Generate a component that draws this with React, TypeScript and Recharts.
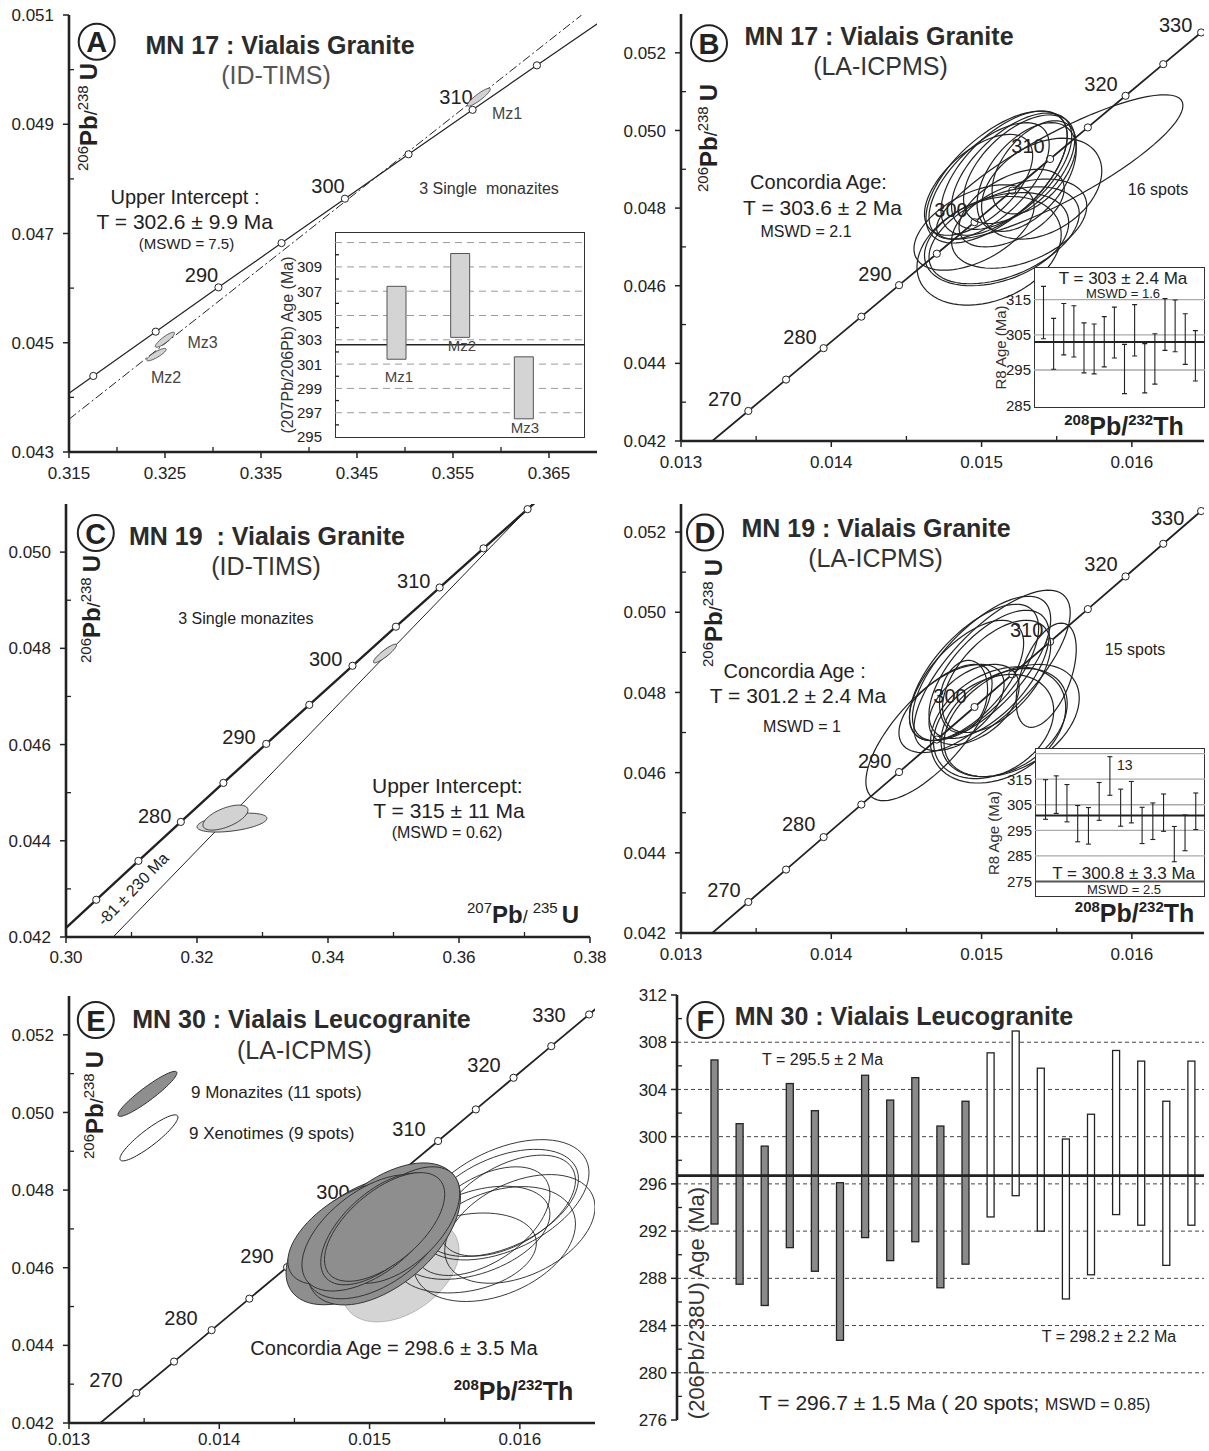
import React from 'react';
import { ComposedChart, XAxis, YAxis, Line, Scatter, Bar, CartesianGrid, ReferenceLine } from 'recharts';

type Ell = [number, number, number, number, number]; // centre x, centre y, half width, half height, correlation

const INK = '#222';
const FONT = "'Liberation Sans', Arial, Helvetica, sans-serif";

// ---- concordia: ages (Ma) and ratios at the age marks
const agesA = [280, 285, 290, 295, 300, 305, 310, 315];
const pb207A = [0.31753, 0.32403, 0.33057, 0.33714, 0.34374, 0.35037, 0.35704, 0.36374];
const pb206A = [0.044392, 0.045203, 0.046014, 0.046825, 0.047637, 0.04845, 0.049264, 0.050078];
const endsA = [[0.31106, 0.043582], [0.37047, 0.050893]];

const agesC = [270, 275, 280, 285, 290, 295, 300, 305, 310, 315, 320];
const pb207C = [0.30462, 0.31106, 0.31753, 0.32403, 0.33057, 0.33714, 0.34374, 0.35037, 0.35704, 0.36374, 0.37047];
const pb206C = [0.042774, 0.043582, 0.044392, 0.045203, 0.046014, 0.046825, 0.047637, 0.04845, 0.049264, 0.050078, 0.050893];
const endsC = [[0.29821, 0.041966], [0.37723, 0.051708]];

const agesTh = [270, 275, 280, 285, 290, 295, 300, 305, 310, 315, 320, 325, 330];
const pb208 = [0.013448, 0.013699, 0.013949, 0.0142, 0.014451, 0.014702, 0.014953, 0.015204, 0.015456, 0.015707, 0.015958, 0.016209, 0.016461];
const pb206Th = [0.042774, 0.043582, 0.044392, 0.045203, 0.046014, 0.046825, 0.047637, 0.04845, 0.049264, 0.050078, 0.050893, 0.051708, 0.052524];
const endsTh = [[0.013197, 0.041965], [0.016712, 0.053341]];

// ---- discordia lines
const discAX = [0.315, 0.3684];
const discAY = [0.0436, 0.051];
const discCX = [0.3072, 0.3712];
const discCY = [0.042, 0.051];

// ---- error ellipses
const ellA: Ell[] = [
  [0.35769, 0.049495, 0.0012, 0.000165, 0.9],
  [0.32499, 0.045055, 0.001, 0.000138, 0.88],
  [0.32411, 0.044783, 0.00101, 0.000113, 0.85],
];
const ellC: Ell[] = [
  [0.32534, 0.044378, 0.00534, 0.000197, 0.45],
  [0.32435, 0.044482, 0.00344, 0.00026, 0.6],
  [0.3487, 0.047892, 0.00176, 0.000194, 0.9],
];
const ellB: Ell[] = [
  [0.0151, 0.0488, 0.00047, 0.0017, 0.62],
  [0.01515, 0.0489, 0.00042, 0.0016, 0.6],
  [0.0152, 0.04895, 0.0004, 0.0015, 0.6],
  [0.01505, 0.0487, 0.0004, 0.0015, 0.62],
  [0.01525, 0.049, 0.00037, 0.0014, 0.55],
  [0.0153, 0.0488, 0.00033, 0.0014, 0.5],
  [0.01498, 0.0486, 0.00036, 0.0013, 0.58],
  [0.01535, 0.04905, 0.00028, 0.0012, 0.5],
  [0.01552, 0.04906, 0.00082, 0.00186, 0.85],
  [0.0154, 0.0485, 0.0004, 0.0013, 0.35],
  [0.0151, 0.0472, 0.00048, 0.0012, 0.35],
  [0.01505, 0.0469, 0.00048, 0.0014, 0.3],
  [0.01515, 0.0473, 0.0005, 0.00125, 0.45],
  [0.01495, 0.0475, 0.0004, 0.0011, 0.5],
  [0.01525, 0.0476, 0.00045, 0.00115, 0.4],
  [0.0152, 0.048, 0.00035, 0.001, 0.5],
];
const ellD: Ell[] = [
  [0.01465, 0.047, 0.00042, 0.0017, 0.72],
  [0.01507, 0.04855, 0.00052, 0.002, 0.72],
  [0.015, 0.0486, 0.00046, 0.0018, 0.68],
  [0.01495, 0.0485, 0.00043, 0.0017, 0.65],
  [0.01505, 0.04845, 0.0004, 0.0016, 0.62],
  [0.0149, 0.0483, 0.00038, 0.0015, 0.62],
  [0.0151, 0.0484, 0.00036, 0.0014, 0.55],
  [0.01488, 0.0479, 0.00016, 0.0009, 0.2],
  [0.01543, 0.04843, 0.0002, 0.0013, 0.5],
  [0.01511, 0.04719, 0.00045, 0.00145, 0.3],
  [0.01515, 0.04725, 0.00042, 0.00135, 0.35],
  [0.01508, 0.04715, 0.0004, 0.0013, 0.3],
  [0.0152, 0.0473, 0.00045, 0.0014, 0.4],
  [0.0148, 0.0476, 0.00035, 0.0011, 0.55],
  [0.01495, 0.0477, 0.0003, 0.001, 0.45],
];
const ellEMonazite: Ell[] = [
  [0.014948, 0.046696, 0.000504, 0.00165, 0.5],
  [0.015095, 0.046871, 0.00051, 0.00183, 0.52],
  [0.014902, 0.046897, 0.000446, 0.00133, 0.55],
  [0.01505, 0.0468, 0.00048, 0.0016, 0.5],
  [0.0152, 0.0471, 0.0004, 0.0015, 0.55],
  [0.015, 0.0469, 0.00045, 0.0015, 0.55],
  [0.015069, 0.047, 0.000394, 0.00144, 0.6],
  [0.0151, 0.04705, 0.0004, 0.0014, 0.6],
];
const ellEGrey: Ell[] = [[0.015206, 0.045918, 0.000389, 0.001314, 0.4]];
const ellEXenotime: Ell[] = [
  [0.01589, 0.04775, 0.00057, 0.00155, 0.45],
  [0.01587, 0.04767, 0.00052, 0.00138, 0.45],
  [0.01592, 0.0476, 0.00045, 0.0013, 0.5],
  [0.01583, 0.04661, 0.00054, 0.00148, 0.35],
  [0.01564, 0.04638, 0.00047, 0.00103, 0.25],
  [0.016, 0.047, 0.0005, 0.0014, 0.4],
  [0.01575, 0.0472, 0.00045, 0.0014, 0.5],
  [0.0157, 0.0469, 0.0005, 0.0012, 0.4],
];
const legendE: Ell[] = [
  [0.013522, 0.050479, 0.000196, 0.00058, 0.93],
  [0.013532, 0.049345, 0.000193, 0.000593, 0.9],
];

// ---- inset A : 207Pb/206Pb ages
const insetANames = ['Mz1', 'Mz2', 'Mz3'];
const insetALow = [301.4, 303.2, 296.5];
const insetAHigh = [307.4, 310.1, 301.6];
const insetAMean = 302.6;
const insetAGrid = [297, 299, 301, 303, 305, 307, 309, 311];
const insetATicks = [295, 296, 297, 298, 299, 300, 301, 302, 303, 304, 305, 306, 307, 308, 309, 310];
const insetALabels = [295, 297, 299, 301, 303, 305, 307, 309];

// ---- inset B : R8 ages, 16 spots
const r8BHigh = [318.8, 309.7, 313.9, 313.3, 308.4, 308.1, 310.2, 312.9, 302.3, 313.6, 302.5, 305.3, 315.3, 314.9, 311.0, 306.2];
const r8BLow = [303.9, 295.2, 299.3, 298.7, 294.2, 293.9, 295.9, 298.4, 288.3, 299.0, 288.5, 291.0, 300.6, 300.2, 296.6, 291.9];
const r8BMean = 303;
const r8BGrid = [295, 305, 315];
const r8BTicks = [285, 295, 305, 315];

// ---- inset D : R8 ages, 15 spots
const r8DHigh = [314.8, 316.3, 312.9, 304.7, 303.9, 313.7, 323.8, 311.1, 314.1, 304.0, 305.7, 309.2, 296.5, 301.0, 309.6];
const r8DLow = [299.3, 301.6, 298.3, 290.5, 289.6, 298.9, 308.7, 296.6, 297.9, 289.8, 291.4, 294.6, 282.7, 287.0, 295.3];
const r8DMean = 300.8;
const r8DGrid = [285, 295, 305, 315, 325];
const r8DBase = 275;
const r8DTicks = [275, 285, 295, 305, 315];

// ---- panel F : 206Pb/238U ages, 11 monazite + 9 xenotime spots
const fHigh = [306.5, 301.1, 299.2, 304.5, 302.2, 296.1, 305.2, 303.1, 305.0, 300.9, 303.0, 307.1, 308.95, 305.8, 299.8, 301.9, 307.3, 306.4, 303.0, 306.4];
const fLow = [292.6, 287.5, 285.7, 290.6, 288.6, 282.75, 291.45, 289.5, 291.1, 287.2, 289.2, 293.2, 295.0, 292.0, 286.25, 288.3, 293.4, 292.5, 289.1, 292.5];
const fKind = ['m', 'm', 'm', 'm', 'm', 'm', 'm', 'm', 'm', 'm', 'm', 'x', 'x', 'x', 'x', 'x', 'x', 'x', 'x', 'x'];
const fMean = 296.7;
const fGrid = [280, 284, 288, 292, 296, 300, 304, 308];
const fTicks = [276, 278, 280, 282, 284, 286, 288, 290, 292, 294, 296, 298, 300, 302, 304, 306, 308, 310, 312];
const fLabels = [276, 280, 284, 288, 292, 296, 300, 304, 308, 312];

// ---- axis ticks
const xTicksA = [0.315, 0.32, 0.325, 0.33, 0.335, 0.34, 0.345, 0.35, 0.355, 0.36, 0.365];
const xLabA = [0.315, 0.325, 0.335, 0.345, 0.355, 0.365];
const yTicksA = [0.043, 0.044, 0.045, 0.046, 0.047, 0.048, 0.049, 0.05, 0.051];
const yLabA = [0.043, 0.045, 0.047, 0.049, 0.051];
const xTicksC = [0.3, 0.31, 0.32, 0.33, 0.34, 0.35, 0.36, 0.37, 0.38];
const xLabC = [0.3, 0.32, 0.34, 0.36, 0.38];
const yTicksC = [0.042, 0.043, 0.044, 0.045, 0.046, 0.047, 0.048, 0.049, 0.05];
const yLabC = [0.042, 0.044, 0.046, 0.048, 0.05];
const xTicksTh = [0.013, 0.0135, 0.014, 0.0145, 0.015, 0.0155, 0.016];
const xLabTh = [0.013, 0.014, 0.015, 0.016];
const yTicksTh = [0.042, 0.043, 0.044, 0.045, 0.046, 0.047, 0.048, 0.049, 0.05, 0.051, 0.052];
const yLabTh = [0.042, 0.044, 0.046, 0.048, 0.05, 0.052];

const zip = (xs: number[], ys: number[]) => xs.map((x, i) => ({ x, y: ys[i] }));
const withEnds = (xs: number[], ys: number[], ends: number[][]) => [
  { x: ends[0][0], y: ends[0][1] },
  ...zip(xs, ys),
  { x: ends[1][0], y: ends[1][1] },
];

const ellPts = ([cx, cy, sx, sy, r]: Ell, n = 72) => {
  const q = Math.sqrt(1 - r * r);
  const out = [];
  for (let k = 0; k <= n; k++) {
    const t = (2 * Math.PI * k) / n;
    out.push({ x: cx + sx * Math.cos(t), y: cy + sy * (r * Math.cos(t) + q * Math.sin(t)) });
  }
  return out;
};
const toPath = (pts: any[]) =>
  pts.map((p, i) => `${i ? 'L' : 'M'}${p.x.toFixed(2)},${p.y.toFixed(2)}`).join(' ') + ' Z';

const isIn = (arr: number[], v: number) => arr.some((m) => Math.abs(m - v) < 1e-9);
const f3 = (v: number) => v.toFixed(3);
const f2 = (v: number) => v.toFixed(2);
const f0 = (v: number) => String(Math.round(v));

const yTick = (labels: number[], fmt: (v: number) => string, fs: number, gap: number, majLen = 6, minLen = 5) => (p: any) => {
  const v = Number(p.payload.value);
  const major = isIn(labels, v);
  return (
    <g>
      {major && majLen > 0 && <line x1={p.x - majLen} x2={p.x} y1={p.y} y2={p.y} stroke={INK} strokeWidth={1.5} />}
      {!major && minLen > 0 && <line x1={p.x} x2={p.x + minLen} y1={p.y} y2={p.y} stroke={INK} strokeWidth={1.3} />}
      {major && (
        <text x={p.x - gap} y={p.y} dy="0.36em" textAnchor="end" fontSize={fs} fill={INK}>
          {fmt(v)}
        </text>
      )}
    </g>
  );
};

const xTick = (labels: number[], fmt: (v: number) => string, gap: number) => (p: any) => {
  const v = Number(p.payload.value);
  const major = isIn(labels, v);
  return (
    <g>
      {major ? (
        <line x1={p.x} x2={p.x} y1={p.y} y2={p.y + 6} stroke={INK} strokeWidth={1.5} />
      ) : (
        <line x1={p.x} x2={p.x} y1={p.y} y2={p.y - 5} stroke={INK} strokeWidth={1.3} />
      )}
      {major && (
        <text x={p.x} y={p.y + gap} textAnchor="middle" fontSize={17} fill={INK}>
          {fmt(v)}
        </text>
      )}
    </g>
  );
};

const concordia = (pts: any[], key: string, sw: number) => (
  <Line key={key} data={pts} dataKey="y" type="linear" stroke={INK} strokeWidth={sw} dot={false} activeDot={false} isAnimationActive={false} />
);
const straight = (pts: any[], key: string, dash?: string) => (
  <Line key={key} data={pts} dataKey="y" type="linear" stroke={INK} strokeWidth={1} strokeDasharray={dash} dot={false} activeDot={false} isAnimationActive={false} />
);
const marks = (pts: any[], key: string) => (
  <Scatter
    key={key}
    data={pts}
    isAnimationActive={false}
    shape={(p: any) => <circle cx={p.cx} cy={p.cy} r={3.6} fill="#fff" stroke={INK} strokeWidth={1} />}
  />
);
const ellipse = (e: Ell, key: string, fill: string, stroke: string, sw: number) => (
  <Scatter
    key={key}
    data={ellPts(e)}
    isAnimationActive={false}
    shape={() => <g />}
    line={(lp: any) => <path d={toPath(lp.points)} fill={fill} stroke={stroke} strokeWidth={sw} />}
  />
);

type Box = { l: number; t: number; r: number; b: number };

const Panel = ({ box, xDom, yDom, xTicks, xLab, yTicks, yLab, fx, gap = 27, children }: any) => {
  const YW = 70, XH = 36, TM = 14, RM = 24;
  const w = box.r - box.l;
  const h = box.b - box.t;
  return (
    <div style={{ position: 'absolute', left: box.l - YW, top: box.t - TM }}>
      <ComposedChart width={w + YW + RM} height={h + TM + XH} margin={{ top: TM, right: RM, bottom: 0, left: 0 }}>
        <XAxis
          type="number"
          dataKey="x"
          domain={xDom}
          allowDataOverflow
          ticks={xTicks}
          interval={0}
          height={XH}
          tickSize={0}
          tickMargin={0}
          tickLine={false}
          axisLine={{ stroke: INK, strokeWidth: 2.6 }}
          tick={xTick(xLab, fx, gap)}
        />
        <XAxis xAxisId="top" orientation="top" type="number" domain={[0, 1]} allowDataOverflow height={0} tick={false} tickLine={false} axisLine={{ stroke: INK, strokeWidth: 2 }} />
        <YAxis
          type="number"
          dataKey="y"
          domain={yDom}
          allowDataOverflow
          ticks={yTicks}
          interval={0}
          width={YW}
          tickSize={0}
          tickMargin={0}
          tickLine={false}
          axisLine={{ stroke: INK, strokeWidth: 2.6 }}
          tick={yTick(yLab, f3, 17, 15)}
        />
        <YAxis yAxisId="right" orientation="right" type="number" domain={[0, 1]} allowDataOverflow width={0} tick={false} tickLine={false} axisLine={{ stroke: INK, strokeWidth: 2 }} />
        {children}
      </ComposedChart>
    </div>
  );
};

const errShape = (p: any) => {
  const cx = p.x + p.width / 2;
  return (
    <g stroke={INK} strokeWidth={1.1}>
      <line x1={cx} x2={cx} y1={p.y} y2={p.y + p.height} />
      <line x1={cx - 2.5} x2={cx + 2.5} y1={p.y} y2={p.y} />
      <line x1={cx - 2.5} x2={cx + 2.5} y1={p.y + p.height} y2={p.y + p.height} />
    </g>
  );
};

const Inset = ({ box, yDom, yTicks, tickFn, data, padding, children }: any) => {
  const YW = 60, VM = 10;
  const w = box.r - box.l;
  const h = box.b - box.t;
  return (
    <>
      <div style={{ position: 'absolute', left: box.l, top: box.t, width: w, height: h, background: '#fff', border: '1.2px solid #333', boxSizing: 'border-box' }} />
      <div style={{ position: 'absolute', left: box.l - YW, top: box.t - VM }}>
        <ComposedChart width={w + YW} height={h + 2 * VM} data={data} margin={{ top: VM, right: 0, bottom: VM, left: 0 }}>
          <XAxis dataKey="n" type="category" hide padding={padding} />
          <YAxis type="number" domain={yDom} allowDataOverflow ticks={yTicks} interval={0} width={YW} tickSize={0} tickMargin={0} axisLine={false} tickLine={false} tick={tickFn} />
          {children}
        </ComposedChart>
      </div>
    </>
  );
};

const Tx = ({ x, y, s, w, a = 'middle', c = INK, pre, children }: any) => (
  <text x={x} y={y} fontSize={s} fontWeight={w} textAnchor={a} fill={c} style={pre ? { whiteSpace: 'pre' } : undefined}>
    {children}
  </text>
);
const Badge = ({ x, y, ch }: any) => (
  <g>
    <circle cx={x} cy={y} r={18} fill="#fff" stroke={INK} strokeWidth={2} />
    <text x={x} y={y + 10.5} fontSize={29} fontWeight="bold" textAnchor="middle" fill={INK}>
      {ch}
    </text>
  </g>
);
const RatioU = ({ x, y }: any) => (
  <text transform={`translate(${x},${y}) rotate(-90)`} textAnchor="middle" fill={INK}>
    <tspan fontSize={15} dy={-9}>206</tspan>
    <tspan fontSize={24} fontWeight="bold" dy={9}>Pb</tspan>
    <tspan fontSize={18}>/</tspan>
    <tspan fontSize={15} dy={-9}>238</tspan>
    <tspan fontSize={24} fontWeight="bold" dy={9} dx={5}>U</tspan>
  </text>
);
const RatioTh = ({ x, y }: any) => (
  <text x={x} y={y} textAnchor="middle" fill={INK} fontWeight="bold">
    <tspan fontSize={15} dy={-10}>208</tspan>
    <tspan fontSize={25} dy={10}>Pb/</tspan>
    <tspan fontSize={15} dy={-10}>232</tspan>
    <tspan fontSize={25} dy={10}>Th</tspan>
  </text>
);
const Rot = ({ x, y, s, c = INK, children }: any) => (
  <text transform={`translate(${x},${y}) rotate(-90)`} textAnchor="middle" fontSize={s} fill={c}>
    {children}
  </text>
);

export default function App() {
  const boxA: Box = { l: 69, t: 15, r: 597, b: 452 };
  const boxB: Box = { l: 681, t: 14, r: 1204, b: 441 };
  const boxC: Box = { l: 66, t: 504, r: 590, b: 937 };
  const boxD: Box = { l: 681, t: 504, r: 1204, b: 933 };
  const boxE: Box = { l: 69, t: 996, r: 595, b: 1423 };
  const boxF: Box = { l: 677, t: 995, r: 1204, b: 1420 };

  const markA = zip(pb207A, pb206A);
  const markC = zip(pb207C, pb206C);
  const markTh = zip(pb208, pb206Th);

  const insetA = insetANames.map((n, i) => ({ n, r: [insetALow[i], insetAHigh[i]] }));
  const insetB = r8BLow.map((lo, i) => ({ n: String(i + 1), r: [lo, r8BHigh[i]] }));
  const insetD = r8DLow.map((lo, i) => ({ n: String(i + 1), r: [lo, r8DHigh[i]] }));
  const fData = fLow.map((lo, i) => ({ n: String(i + 1), r: [lo, fHigh[i]], kind: fKind[i] }));

  const fBar = (p: any) => (
    <rect x={p.x} y={p.y} width={p.width} height={p.height} fill={p.payload.kind === 'm' ? '#8a8a8a' : '#fff'} stroke={INK} strokeWidth={1.3} />
  );

  return (
    <div style={{ position: 'absolute', left: 0, top: 0, width: 1209, height: 1451, background: '#fff', fontFamily: FONT, overflow: 'hidden' }}>
      {/* concordia age labels sit under the marks and ellipses */}
      <svg width={1209} height={1451} style={{ position: 'absolute', left: 0, top: 0 }}>
        <Tx x={456} y={104} s={20}>310</Tx>
        <Tx x={328} y={193} s={20}>300</Tx>
        <Tx x={201.5} y={282} s={20}>290</Tx>

        <Tx x={724.6} y={406} s={20}>270</Tx>
        <Tx x={800} y={344.3} s={20}>280</Tx>
        <Tx x={875} y={280.7} s={20}>290</Tx>
        <Tx x={951} y={216.7} s={20}>300</Tx>
        <Tx x={1028} y={153.3} s={20}>310</Tx>
        <Tx x={1101} y={90.7} s={20}>320</Tx>
        <Tx x={1175.6} y={31.7} s={20}>330</Tx>

        <Tx x={413.8} y={588.3} s={20}>310</Tx>
        <Tx x={325.7} y={666} s={20}>300</Tx>
        <Tx x={239} y={744} s={20}>290</Tx>
        <Tx x={154.6} y={822.7} s={20}>280</Tx>

        <Tx x={724} y={896.7} s={20}>270</Tx>
        <Tx x={798.6} y={831} s={20}>280</Tx>
        <Tx x={874.6} y={768.3} s={20}>290</Tx>
        <Tx x={950} y={703.3} s={20}>300</Tx>
        <Tx x={1026.7} y={636.7} s={20}>310</Tx>
        <Tx x={1101} y={570.7} s={20}>320</Tx>
        <Tx x={1167.6} y={525} s={20}>330</Tx>

        <Tx x={106} y={1387.3} s={20}>270</Tx>
        <Tx x={181} y={1325} s={20}>280</Tx>
        <Tx x={257} y={1263.3} s={20}>290</Tx>
        <Tx x={333} y={1199.3} s={20}>300</Tx>
        <Tx x={409} y={1136} s={20}>310</Tx>
        <Tx x={484} y={1071.7} s={20}>320</Tx>
        <Tx x={549} y={1021.7} s={20}>330</Tx>
      </svg>

      {/* A */}
      <Panel box={boxA} xDom={[0.315, 0.37]} yDom={[0.043, 0.051]} xTicks={xTicksA} xLab={xLabA} yTicks={yTicksA} yLab={yLabA} fx={f3}>
        {concordia(withEnds(pb207A, pb206A, endsA), 'cA', 1.2)}
        {straight(zip(discAX, discAY), 'dA', '9 3 2 3')}
        {marks(markA, 'mA')}
        {ellA.map((e, i) => ellipse(e, 'eA' + i, '#d2d2d2', '#444', 0.9))}
      </Panel>

      {/* B */}
      <Panel box={boxB} xDom={[0.013, 0.01648]} yDom={[0.042, 0.053]} xTicks={xTicksTh} xLab={xLabTh} yTicks={yTicksTh} yLab={yLabTh} fx={f3}>
        {concordia(withEnds(pb208, pb206Th, endsTh), 'cB', 1.8)}
        {marks(markTh, 'mB')}
        {ellB.map((e, i) => ellipse(e, 'eB' + i, 'none', INK, 1.2))}
      </Panel>

      {/* C */}
      <Panel box={boxC} xDom={[0.3, 0.38]} yDom={[0.042, 0.051]} xTicks={xTicksC} xLab={xLabC} yTicks={yTicksC} yLab={yLabC} fx={f2} gap={26}>
        {concordia(withEnds(pb207C, pb206C, endsC), 'cC', 2.4)}
        {straight(zip(discCX, discCY), 'dC')}
        {ellC.map((e, i) => ellipse(e, 'eC' + i, '#d2d2d2', '#333', 0.9))}
        {marks(markC, 'mC')}
      </Panel>

      {/* D */}
      <Panel box={boxD} xDom={[0.013, 0.01648]} yDom={[0.042, 0.0527]} xTicks={xTicksTh} xLab={xLabTh} yTicks={yTicksTh} yLab={yLabTh} fx={f3}>
        {concordia(withEnds(pb208, pb206Th, endsTh), 'cD', 1.8)}
        {marks(markTh, 'mD')}
        {ellD.map((e, i) => ellipse(e, 'eD' + i, 'none', INK, 1.2))}
      </Panel>

      {/* E */}
      <Panel box={boxE} xDom={[0.013, 0.0165]} yDom={[0.042, 0.053]} xTicks={xTicksTh} xLab={xLabTh} yTicks={yTicksTh} yLab={yLabTh} fx={f3} gap={22}>
        {concordia(withEnds(pb208, pb206Th, endsTh), 'cE', 1.8)}
        {marks(markTh, 'mE')}
        {ellipse(legendE[0], 'lE0', '#8e8e8e', '#333', 1)}
        {ellipse(legendE[1], 'lE1', '#fff', INK, 1)}
        {ellEGrey.map((e, i) => ellipse(e, 'gE' + i, '#d4d4d4', '#aaa', 0.8))}
        {ellEXenotime.map((e, i) => ellipse(e, 'xE' + i, 'none', INK, 0.9))}
        {ellEMonazite.map((e, i) => ellipse(e, 'mzE' + i, '#8e8e8e', '#333', 1))}
      </Panel>

      {/* F */}
      <div style={{ position: 'absolute', left: boxF.l - 60, top: boxF.t - 14 }}>
        <ComposedChart width={boxF.r - boxF.l + 84} height={boxF.b - boxF.t + 24} data={fData} margin={{ top: 14, right: 24, bottom: 10, left: 0 }}>
          <CartesianGrid horizontalValues={fGrid} vertical={false} stroke="#444" strokeDasharray="4 3" />
          <XAxis dataKey="n" type="category" padding={{ left: 25, right: 0 }} height={0} tick={false} tickLine={false} axisLine={{ stroke: INK, strokeWidth: 2.6 }} />
          <XAxis xAxisId="top" orientation="top" type="number" domain={[0, 1]} allowDataOverflow height={0} tick={false} tickLine={false} axisLine={{ stroke: INK, strokeWidth: 2 }} />
          <YAxis type="number" domain={[276, 312]} allowDataOverflow ticks={fTicks} interval={0} width={60} tickSize={0} tickMargin={0} tickLine={false} axisLine={{ stroke: INK, strokeWidth: 2.6 }} tick={yTick(fLabels, f0, 17, 10)} />
          <YAxis yAxisId="right" orientation="right" type="number" domain={[0, 1]} allowDataOverflow width={0} tick={false} tickLine={false} axisLine={{ stroke: INK, strokeWidth: 2 }} />
          <Bar dataKey="r" barSize={7} isAnimationActive={false} shape={fBar} />
          <ReferenceLine y={fMean} stroke={INK} strokeWidth={2.6} />
        </ComposedChart>
      </div>

      {/* insets */}
      <Inset box={{ l: 335, t: 232, r: 585, b: 438 }} yDom={[294.92, 311.87]} yTicks={insetATicks} tickFn={yTick(insetALabels, f0, 15, 13, 0, 4)} data={insetA} padding={{ left: 30, right: 29 }}>
        <CartesianGrid horizontalValues={insetAGrid} vertical={false} stroke="#9a9a9a" strokeDasharray="7 5" />
        <CartesianGrid horizontalValues={[insetAMean]} vertical={false} stroke={INK} strokeWidth={1.5} />
        <Bar dataKey="r" barSize={19} fill="#d4d4d4" stroke="#555" strokeWidth={1} isAnimationActive={false} />
      </Inset>
      <Inset box={{ l: 1034, t: 267, r: 1205, b: 408 }} yDom={[284.2, 324.3]} yTicks={r8BTicks} tickFn={yTick(r8BTicks, f0, 15, 3, 0, 0)} data={insetB} padding={{ left: 4, right: 5 }}>
        <CartesianGrid horizontalValues={r8BGrid} vertical={false} stroke="#aaa" strokeWidth={1.3} />
        <Bar dataKey="r" barSize={5} isAnimationActive={false} shape={errShape} />
        <ReferenceLine y={r8BMean} stroke={INK} strokeWidth={2} />
      </Inset>
      <Inset box={{ l: 1035, t: 748, r: 1205, b: 897 }} yDom={[268.9, 327.2]} yTicks={r8DTicks} tickFn={yTick(r8DTicks, f0, 15, 3, 0, 0)} data={insetD} padding={{ left: 5, right: 4 }}>
        <CartesianGrid horizontalValues={r8DGrid} vertical={false} stroke="#aaa" strokeWidth={1.3} />
        <CartesianGrid horizontalValues={[r8DBase]} vertical={false} stroke="#555" strokeWidth={2} />
        <Bar dataKey="r" barSize={5} isAnimationActive={false} shape={errShape} />
        <ReferenceLine y={r8DMean} stroke={INK} strokeWidth={2} />
      </Inset>

      {/* texts */}
      <svg width={1209} height={1451} style={{ position: 'absolute', left: 0, top: 0, pointerEvents: 'none' }}>
        {/* A */}
        <Badge x={96.7} y={41.7} ch="A" />
        <Tx x={280} y={54} s={25} w="bold" c="#2b2b2b">MN 17 : Vialais Granite</Tx>
        <Tx x={276} y={84} s={25} c="#555">(ID-TIMS)</Tx>
        <RatioU x={97} y={117} />
        <Tx x={507} y={119} s={16} c="#444">Mz1</Tx>
        <Tx x={202.6} y={347.7} s={16} c="#444">Mz3</Tx>
        <Tx x={166} y={383.3} s={16} c="#444">Mz2</Tx>
        <Tx x={489} y={194} s={16} c="#333" pre>3 Single  monazites</Tx>
        <Tx x={185} y={204} s={20}>Upper Intercept :</Tx>
        <Tx x={184.7} y={229} s={21}>T = 302.6 ± 9.9 Ma</Tx>
        <Tx x={186.5} y={249} s={15}>(MSWD = 7.5)</Tx>
        <Rot x={293} y={345} s={16} c="#333">(207Pb/206Pb) Age (Ma)</Rot>
        <Tx x={399} y={381.7} s={15} c="#444">Mz1</Tx>
        <Tx x={462} y={350.7} s={15} c="#444">Mz2</Tx>
        <Tx x={525} y={433.3} s={15} c="#444">Mz3</Tx>

        {/* B */}
        <Badge x={709} y={43.3} ch="B" />
        <Tx x={879} y={45} s={25} w="bold" c="#2b2b2b">MN 17 : Vialais Granite</Tx>
        <Tx x={880.5} y={75} s={25} c="#333">(LA-ICPMS)</Tx>
        <RatioU x={717} y={138} />
        <Tx x={818.5} y={189} s={20}>Concordia Age:</Tx>
        <Tx x={822.5} y={215} s={21}>T = 303.6 ± 2 Ma</Tx>
        <Tx x={806} y={236.7} s={16}>MSWD = 2.1</Tx>
        <Tx x={1158} y={195} s={16}>16 spots</Tx>
        <Tx x={1123} y={284} s={17}>T = 303 ± 2.4 Ma</Tx>
        <Tx x={1123} y={298.3} s={13}>MSWD = 1.6</Tx>
        <Rot x={1006} y={347.5} s={15} c="#333">R8 Age (Ma)</Rot>
        <RatioTh x={1124} y={435} />

        {/* C */}
        <Badge x={95.8} y={533} ch="C" />
        <Tx x={267} y={545} s={25} w="bold" c="#2b2b2b" pre>MN 19  : Vialais Granite</Tx>
        <Tx x={266} y={575} s={25} c="#333">(ID-TIMS)</Tx>
        <RatioU x={100} y={609} />
        <Tx x={245.8} y={624} s={16}>3 Single monazites</Tx>
        <Tx x={447.3} y={793.3} s={21}>Upper Intercept:</Tx>
        <Tx x={449} y={818.3} s={21}>T = 315 ± 11 Ma</Tx>
        <Tx x={447} y={838} s={16}>(MSWD = 0.62)</Tx>
        <text transform="translate(137,893) rotate(-46)" textAnchor="middle" fontSize={16} fill={INK}>-81 ± 230 Ma</text>
        <text x={523} y={923} textAnchor="middle" fill={INK}>
          <tspan fontSize={15} dy={-10}>207</tspan>
          <tspan fontSize={24} fontWeight="bold" dy={10}>Pb</tspan>
          <tspan fontSize={18}>/ </tspan>
          <tspan fontSize={15} dy={-10}>235</tspan>
          <tspan fontSize={24} fontWeight="bold" dy={10} dx={4}>U</tspan>
        </text>

        {/* D */}
        <Badge x={705} y={532.5} ch="D" />
        <Tx x={876} y={536.7} s={25} w="bold" c="#2b2b2b">MN 19 : Vialais Granite</Tx>
        <Tx x={875.6} y={566.7} s={25} c="#333">(LA-ICPMS)</Tx>
        <RatioU x={721.6} y={613} />
        <Tx x={794.7} y={678.3} s={20}>Concordia Age :</Tx>
        <Tx x={798} y={703.3} s={21}>T = 301.2 ± 2.4 Ma</Tx>
        <Tx x={802} y={731.7} s={16}>MSWD = 1</Tx>
        <Tx x={1135} y={655} s={16}>15 spots</Tx>
        <Tx x={1117} y={770} s={14} a="start">13</Tx>
        <Tx x={1123.7} y={879.3} s={17}>T = 300.8 ± 3.3 Ma</Tx>
        <Tx x={1124} y={894} s={13}>MSWD = 2.5</Tx>
        <Rot x={999} y={833} s={15} c="#333">R8 Age (Ma)</Rot>
        <RatioTh x={1134.6} y={921.7} />

        {/* E */}
        <Badge x={95.8} y={1020} ch="E" />
        <Tx x={301.5} y={1028.3} s={25} w="bold" c="#2b2b2b">MN 30 : Vialais Leucogranite</Tx>
        <Tx x={304.4} y={1059.3} s={25} c="#333">(LA-ICPMS)</Tx>
        <RatioU x={102.5} y={1105} />
        <Tx x={191} y={1098.3} s={17} a="start">9 Monazites (11 spots)</Tx>
        <Tx x={189} y={1139.3} s={17} a="start">9 Xenotimes (9 spots)</Tx>
        <Tx x={394} y={1355} s={20}>Concordia Age = 298.6 ± 3.5 Ma</Tx>
        <RatioTh x={513.5} y={1400} />

        {/* F */}
        <Badge x={705.4} y={1020} ch="F" />
        <Tx x={904} y={1025} s={25} w="bold" c="#2b2b2b">MN 30 : Vialais Leucogranite</Tx>
        <Tx x={822.6} y={1065} s={16}>T = 295.5 ± 2 Ma</Tx>
        <Tx x={1109} y={1342.3} s={16}>T = 298.2 ± 2.2 Ma</Tx>
        <text x={759} y={1410} fontSize={21} fill={INK}>
          T = 296.7 ± 1.5 Ma ( 20 spots;  <tspan fontSize={16}>MSWD = 0.85)</tspan>
        </text>
        <Rot x={704} y={1303} s={22} c="#333">(206Pb/238U) Age (Ma)</Rot>
      </svg>
    </div>
  );
}
